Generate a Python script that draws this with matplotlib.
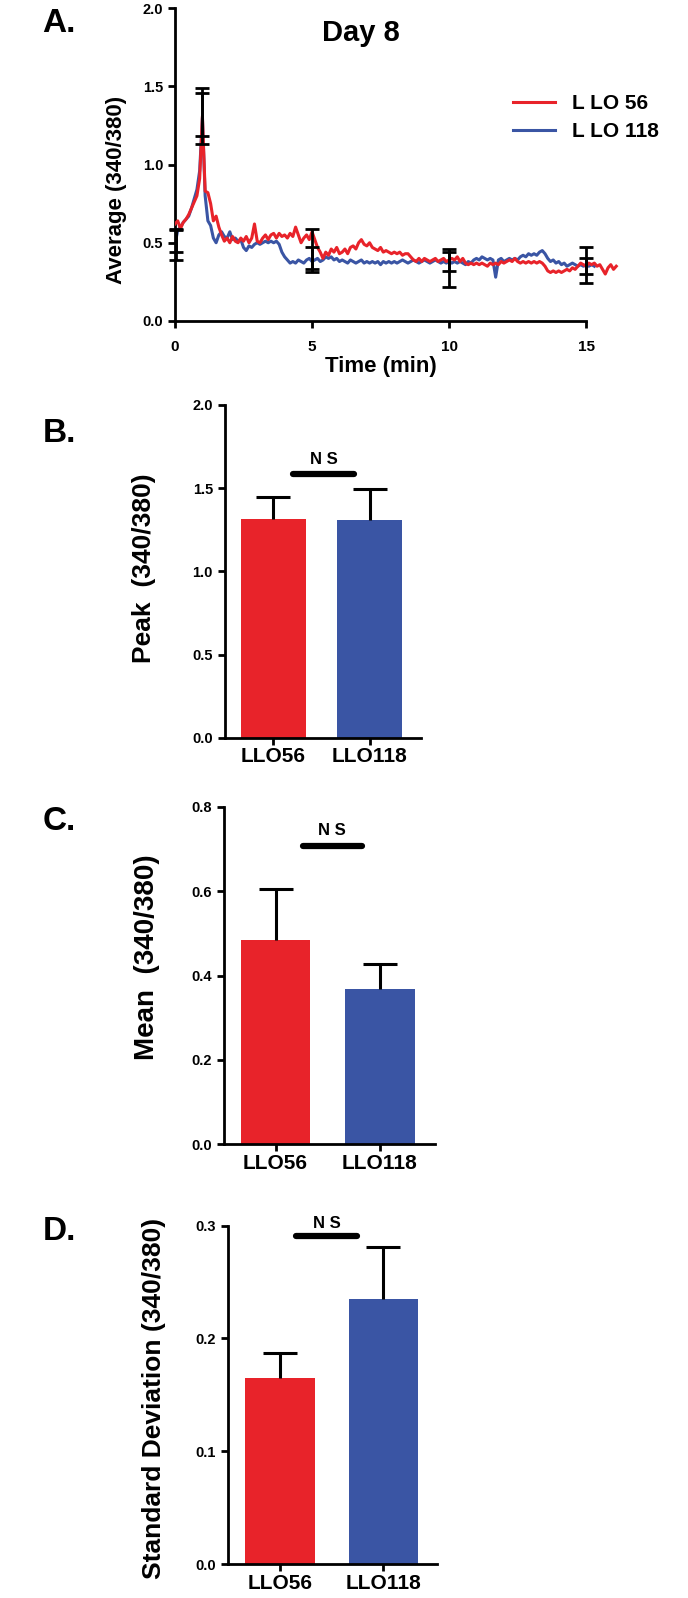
import numpy as np
import matplotlib
matplotlib.use('Agg')
import matplotlib.pyplot as plt

plt.rcParams['font.family'] = ['Liberation Sans', 'DejaVu Sans']
plt.rcParams['font.weight'] = 'bold'

# ========== Data ==========
# Panel A: average 340/380 ratio traces, sampled every 0.1 min
red_trace = [0.62, 0.64, 0.59, 0.63, 0.65, 0.68, 0.72, 0.76, 0.80, 0.91,
             1.31, 0.83, 0.82, 0.75, 0.64, 0.67, 0.60, 0.55, 0.51, 0.53,
             0.50, 0.54, 0.51, 0.50, 0.53, 0.51, 0.54, 0.50, 0.53, 0.62,
             0.51, 0.50, 0.53, 0.55, 0.52, 0.55, 0.56, 0.53, 0.56, 0.54,
             0.55, 0.53, 0.56, 0.54, 0.60, 0.55, 0.50, 0.53, 0.55, 0.52,
             0.57, 0.52, 0.47, 0.44, 0.40, 0.44, 0.42, 0.46, 0.44, 0.47,
             0.43, 0.44, 0.46, 0.43, 0.47, 0.48, 0.46, 0.50, 0.52, 0.49,
             0.48, 0.50, 0.47, 0.46, 0.45, 0.47, 0.44, 0.45, 0.44, 0.43,
             0.44, 0.43, 0.44, 0.42, 0.43, 0.43, 0.41, 0.39, 0.38, 0.40,
             0.38, 0.40, 0.39, 0.38, 0.39, 0.40, 0.38, 0.39, 0.40, 0.38,
             0.39, 0.40, 0.39, 0.41, 0.38, 0.40, 0.37, 0.36, 0.37, 0.36,
             0.37, 0.36, 0.37, 0.36, 0.35, 0.37, 0.36, 0.37, 0.36, 0.38,
             0.37, 0.38, 0.39, 0.38, 0.40, 0.38, 0.37, 0.38, 0.37, 0.38,
             0.37, 0.38, 0.37, 0.38, 0.37, 0.35, 0.32, 0.31, 0.32, 0.31,
             0.32, 0.31, 0.32, 0.33, 0.32, 0.34, 0.33, 0.35, 0.37, 0.36,
             0.35, 0.37, 0.36, 0.37, 0.35, 0.36, 0.33, 0.30, 0.34, 0.36,
             0.33, 0.35]
blue_trace = [0.49, 0.58, 0.60, 0.63, 0.65, 0.67, 0.72, 0.78, 0.84, 0.96,
              1.30, 0.80, 0.64, 0.61, 0.53, 0.50, 0.55, 0.57, 0.54, 0.53,
              0.57, 0.52, 0.53, 0.51, 0.52, 0.47, 0.45, 0.48, 0.47, 0.49,
              0.50, 0.49, 0.50, 0.51, 0.50, 0.51, 0.50, 0.51, 0.49, 0.44,
              0.41, 0.39, 0.37, 0.38, 0.37, 0.39, 0.38, 0.37, 0.39, 0.40,
              0.38, 0.39, 0.40, 0.38, 0.39, 0.41, 0.40, 0.41, 0.39, 0.40,
              0.38, 0.39, 0.38, 0.37, 0.39, 0.38, 0.37, 0.38, 0.39, 0.37,
              0.38, 0.37, 0.38, 0.37, 0.38, 0.36, 0.38, 0.37, 0.38, 0.37,
              0.38, 0.37, 0.38, 0.39, 0.38, 0.37, 0.38, 0.39, 0.38, 0.37,
              0.38, 0.39, 0.38, 0.37, 0.38, 0.39, 0.38, 0.37, 0.38, 0.37,
              0.38, 0.37, 0.38, 0.37, 0.38, 0.37, 0.36, 0.38, 0.37, 0.39,
              0.40, 0.39, 0.41, 0.40, 0.39, 0.40, 0.39, 0.28, 0.39, 0.40,
              0.38, 0.39, 0.40, 0.39, 0.40, 0.39, 0.41, 0.42, 0.41, 0.43,
              0.42, 0.43, 0.42, 0.44, 0.45, 0.43, 0.40, 0.38, 0.39, 0.37,
              0.38, 0.36, 0.37, 0.35, 0.36, 0.37, 0.36, 0.35, 0.36, 0.35,
              0.36, 0.35, 0.36, 0.35]
t_red = np.arange(len(red_trace)) * 0.1
t_blue = np.arange(len(blue_trace)) * 0.1

err_times = [0.05, 1.0, 5.0, 10.0, 15.0]
red_err_mean = [0.51, 1.32, 0.46, 0.34, 0.355]
red_err = [0.07, 0.14, 0.13, 0.12, 0.115]
blue_err_mean = [0.49, 1.31, 0.39, 0.38, 0.35]
blue_err = [0.10, 0.18, 0.08, 0.06, 0.05]

# Panels B-D: summary bars
groups = ['LLO56', 'LLO118']
peak_vals = [1.313, 1.309]
peak_sem = [0.136, 0.184]
mean_vals = [0.483, 0.368]
mean_sem = [0.123, 0.059]
sd_vals = [0.1647, 0.2347]
sd_sem = [0.0221, 0.0463]

RED = '#E8232A'
BLUE = '#3A55A4'
W, H = 688, 1598

fig = plt.figure(figsize=(W / 100, H / 100), dpi=100)


def rect(left, right, top, bottom):
    return [left / W, 1 - bottom / H, (right - left) / W, (bottom - top) / H]


def style_axes(ax, xsize):
    for s in ['top', 'right']:
        ax.spines[s].set_visible(False)
    for s in ['left', 'bottom']:
        ax.spines[s].set_linewidth(2.0)
    ax.tick_params(width=2.0, length=5)
    ax.tick_params(axis='y', labelsize=10.5)
    ax.tick_params(axis='x', labelsize=xsize)
    for lab in ax.get_yticklabels() + ax.get_xticklabels():
        lab.set_fontweight('bold')


# ========== A ==========
axA = fig.add_axes(rect(175, 619, 8, 321))
axA.plot(t_red, red_trace, color=RED, lw=2.2, label='L LO 56', zorder=3)
axA.plot(t_blue, blue_trace, color=BLUE, lw=2.2, label='L LO 118', zorder=2)
axA.errorbar(err_times, red_err_mean, yerr=red_err, fmt='none', ecolor='k',
             elinewidth=2, capsize=5, capthick=2, zorder=4, clip_on=False)
axA.errorbar(err_times, blue_err_mean, yerr=blue_err, fmt='none', ecolor='k',
             elinewidth=2, capsize=5, capthick=2, zorder=4, clip_on=False)
axA.set_xlim(0, 16.2)
axA.set_ylim(0, 2.0)
axA.set_xticks([0, 5, 10, 15])
axA.set_yticks([0, 0.5, 1.0, 1.5, 2.0])
axA.set_yticklabels(['0.0', '0.5', '1.0', '1.5', '2.0'])
axA.spines['bottom'].set_bounds(0, 15)
style_axes(axA, 11)
axA.tick_params(axis='x', pad=9)
axA.set_xlabel('Time (min)', fontsize=16, fontweight='bold')
axA.xaxis.set_label_coords(0.464, -0.112)
axA.set_ylabel('Average (340/380)', fontsize=16, fontweight='bold')
axA.yaxis.set_label_coords(-0.108, 0.42)
axA.text(0.419, 0.92, 'Day 8', transform=axA.transAxes, ha='center', va='center',
         fontsize=21, fontweight='bold')
axA.legend(loc='upper left', bbox_to_anchor=(0.72, 0.785), frameon=False,
           handlelength=2.0, handletextpad=0.8, labelspacing=0.45,
           prop={'weight': 'bold', 'size': 15})


# ========== B-D ==========
def bar_panel(box, vals, sems, ylim, yticks, ylabel, lab_size, lab_xy,
              ns_x, ns_y, ns_text_y, xlim):
    ax = fig.add_axes(rect(*box))
    x = np.arange(len(groups))
    tops = np.array(vals) + np.array(sems)
    ax.bar(x, vals, width=0.67, color=[RED, BLUE], zorder=2)
    ax.vlines(x, vals, tops, color='k', lw=2.2, zorder=3)
    ax.plot(x, tops, ls='none', marker='_', ms=24, mew=2.2, color='k', zorder=3)
    ax.set_xlim(*xlim)
    ax.set_ylim(*ylim)
    ax.set_yticks(yticks)
    ax.set_yticklabels(['%.1f' % v for v in yticks])
    ax.set_xticks(x)
    ax.set_xticklabels(groups)
    style_axes(ax, 15)
    ax.tick_params(axis='x', pad=2)
    ax.plot(ns_x, [ns_y, ns_y], color='k', lw=4.5, solid_capstyle='round', clip_on=False)
    ax.text(np.mean(ns_x), ns_text_y, 'N S', ha='center', va='center', fontsize=12,
            fontweight='bold', clip_on=False)
    ax.set_ylabel(ylabel, fontsize=lab_size, fontweight='bold')
    ax.yaxis.set_label_coords(*lab_xy)
    return ax


bar_panel((224.7, 420.7, 405, 737.7), peak_vals, peak_sem, (0, 2.0),
          [0, 0.5, 1.0, 1.5, 2.0], 'Peak  (340/380)', 19, (-0.35, 0.51),
          [0.20, 0.84], 1.583, 1.67, (-0.507, 1.532))
bar_panel((223.8, 435.0, 806.7, 1144.3), mean_vals, mean_sem, (0, 0.8),
          [0, 0.2, 0.4, 0.6, 0.8], 'Mean  (340/380)', 20, (-0.30, 0.555),
          [0.26, 0.83], 0.707, 0.743, (-0.496, 1.53))
bar_panel((228.0, 437.4, 1225.7, 1564.0), sd_vals, sd_sem, (0, 0.3),
          [0, 0.1, 0.2, 0.3], 'Standard Deviation (340/380)', 19, (-0.296, 0.49),
          [0.16, 0.74], 0.291, 0.302, (-0.5, 1.52))

# panel letters
for letter, y in [('A.', 23), ('B.', 433), ('C.', 822), ('D.', 1232)]:
    fig.text(59 / W, 1 - y / H, letter, ha='center', va='center', fontsize=24,
             fontweight='bold', family=['Liberation Sans Narrow', 'Liberation Sans'])

fig.savefig('out.png', dpi=100)
